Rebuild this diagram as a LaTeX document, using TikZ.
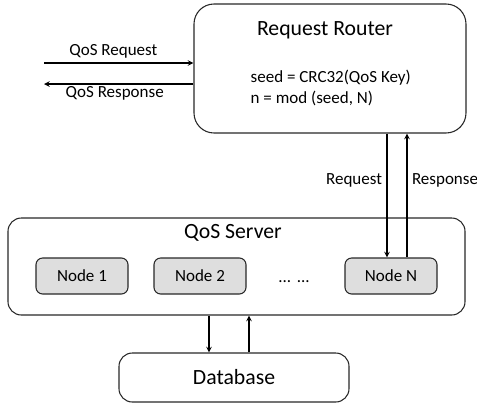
\documentclass[tikz,border=0pt]{standalone}
\usepackage{fontspec}
\setmainfont{Carlito}
\usepackage{tikz}
\usetikzlibrary{arrows,shapes,positioning}
\definecolor{qsgray}{RGB}{222,222,222}
\definecolor{qsline}{RGB}{40,40,40}
\newcommand{\bigtxt}{\fontsize{16.3}{19}\selectfont}
\newcommand{\smalltxt}{\fontsize{12.75}{15.75}\selectfont}
\tikzstyle{arrow} = [line width=0.9pt,->,>=stealth,color=black]
\tikzstyle{bigbox} = [rectangle, rounded corners=15pt, draw=qsline, line width=0.8pt]
\tikzstyle{qsnode} = [rectangle, rounded corners=5pt, minimum width=69pt, minimum height=27pt, text centered, draw=qsline, fill=qsgray, line width=0.8pt, font=\smalltxt]

\begin{document}
\begin{tikzpicture}[x=0.75pt,y=-0.75pt,node distance=88.5pt]
\useasboundingbox (0,0) rectangle (477,404);
% Request router on top
\node (router) [bigbox, minimum width=204pt, minimum height=96.75pt] at (330,68.5) {};
\node (rtitle) [font=\bigtxt] at (325,30) {Request Router};
\node (hash) [anchor=west, align=left, font=\smalltxt] at (246,87.5) {seed = CRC32(QoS Key)\\n = mod (seed, N)};

% Client side
\coordinate (qin) at (44,63);
\coordinate (qout) at (44,84);
\draw[arrow] (qin) -- node[above, font=\smalltxt, xshift=-4pt] {QoS Request} (qin -| router.west);
\draw[arrow] (qout -| router.west) -- node[below, font=\smalltxt, yshift=2pt, xshift=-3pt] {QoS Response} (qout);

% QoS server with its nodes
\node (server) [bigbox, rounded corners=10pt, minimum width=342.75pt, minimum height=72.75pt] at (236.5,266.5) {};
\node (stitle) [font=\bigtxt] at (233,233) {QoS Server};
\node (node1) [qsnode] at (82,276) {Node 1};
\node (node2) [qsnode, right of=node1] {Node 2};
\node (nodeN) [qsnode, right of=node2, xshift=54.75pt] {Node N};
\node (dots) [font=\smalltxt, right of=node2, xshift=-18pt, yshift=-4pt] {...\,\,...};

\draw[arrow] ([xshift=-3pt]nodeN.north |- router.south) -- node[left, pos=0.38, font=\smalltxt] {Request} ([xshift=-3pt]nodeN.north);
\draw[arrow] ([xshift=12pt]nodeN.north) -- node[right, pos=0.62, font=\smalltxt] {Response} ([xshift=12pt]nodeN.north |- router.south);

% Database below
\node (db) [bigbox, rounded corners=10pt, minimum width=172.5pt, minimum height=36.75pt, font=\bigtxt] at (234,377.5) {Database};
\draw[arrow] ([xshift=-18.75pt]db.north |- server.south) -- ([xshift=-18.75pt]db.north);
\draw[arrow] ([xshift=11.25pt]db.north) -- ([xshift=11.25pt]db.north |- server.south);
\end{tikzpicture}
\end{document}
